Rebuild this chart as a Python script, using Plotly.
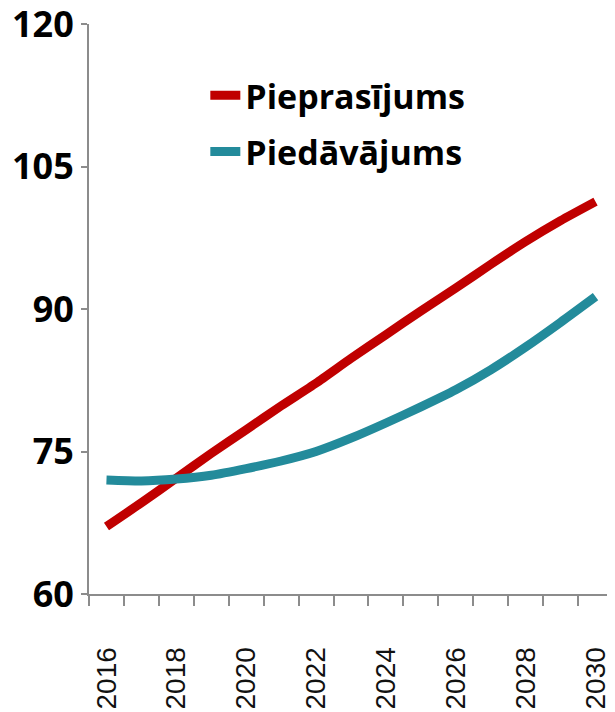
import plotly.graph_objects as go

years = list(range(2016, 2031))
demand = [67.1, 69.6, 72.2, 74.8, 77.3, 79.8, 82.2, 84.8, 87.3, 89.8, 92.2, 94.7, 97.1, 99.3, 101.3]
supply = [72.0, 71.9, 72.1, 72.5, 73.2, 74.0, 75.0, 76.4, 78.0, 79.7, 81.5, 83.6, 86.0, 88.6, 91.3]
names = ["Pieprasījums", "Piedāvājums"]
colors = ["#C00000", "#238B9B"]
x_labels = [2016, 2018, 2020, 2022, 2024, 2026, 2028, 2030]
y_ticks = [60, 75, 90, 105, 120]

fig = go.Figure()
for i, (vals, name) in enumerate(zip([demand, supply], names)):
    fig.add_trace(go.Scatter(
        x=years, y=vals, name=name, mode="lines",
        line=dict(color=colors[i], width=9, shape="spline", smoothing=0.6),
        legendgroup="g%d" % i,
    ))

# page body has an 8px margin, so the figure is a bit smaller than the window
fig.update_layout(
    width=607, height=704,
    margin=dict(l=81, r=2, t=16, b=118),
    plot_bgcolor="white", paper_bgcolor="white",
    showlegend=True,
    legend=dict(
        x=0.222, y=0.925, xanchor="left", yanchor="top",
        font=dict(family="Open Sans", size=34, color="black", weight="bold"),
        bgcolor="rgba(0,0,0,0)", traceorder="grouped", tracegroupgap=9,
    ),
)
fig.update_xaxes(
    range=[2015.5, 2030.5], automargin=False,
    tickvals=x_labels, ticktext=[str(v) for v in x_labels],
    ticks="", tickangle=-90, ticklabelstandoff=40, ticklabeloverflow="allow",
    tickfont=dict(family="Liberation Sans", size=28, color="#111"),
    showgrid=False, zeroline=False,
    showline=True, linecolor="#8c8c8c", linewidth=2,
    minor=dict(ticks="outside", ticklen=10, tickcolor="#8c8c8c", tickwidth=2,
               tick0=2015.5, dtick=1, showgrid=False),
)
fig.update_yaxes(
    range=[60, 120], tickvals=y_ticks, automargin=False,
    ticks="outside", ticklen=6, tickcolor="#8c8c8c", tickwidth=2,
    ticklabeloverflow="allow",
    tickfont=dict(family="Open Sans", size=36, color="black", weight="bold"),
    showgrid=False, zeroline=False,
    showline=True, linecolor="#8c8c8c", linewidth=2,
)

fig.write_html("out.html")
